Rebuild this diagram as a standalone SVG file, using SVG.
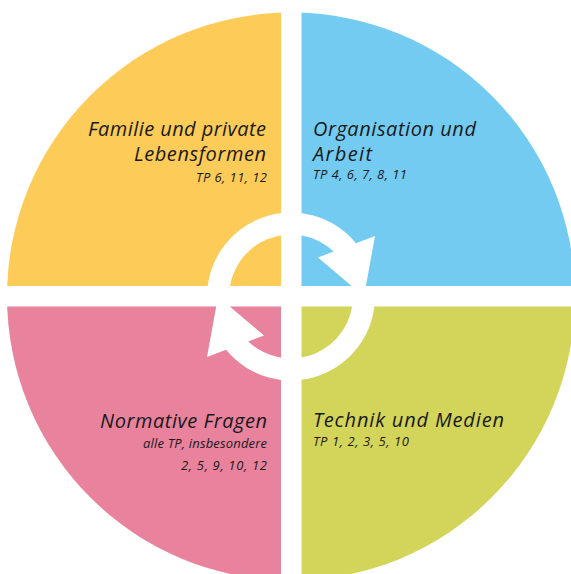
<svg xmlns="http://www.w3.org/2000/svg" width="571" height="574" viewBox="0 0 571 574">
<style>
.t{font-family:"Open Sans","Noto Sans","Liberation Sans",sans-serif;font-style:italic;fill:#1a1a1a}
.h{font-size:20px}
.s{font-size:13px}
</style>
<defs>
<clipPath id="c"><circle cx="291" cy="296.5" r="284"/></clipPath>
</defs>
<rect width="571" height="574" fill="#fff"/>
<g clip-path="url(#c)">
<g id="q-familie"><rect x="0" y="0" width="281" height="286" fill="#fdcb58"/></g>
<g id="q-organisation"><rect x="301.5" y="0" width="290" height="286" fill="#73cbf2"/></g>
<g id="q-normative"><rect x="0" y="306.5" width="281" height="290" fill="#e8829d"/></g>
<g id="q-technik"><rect x="301.5" y="306.5" width="290" height="290" fill="#d3d45a"/></g>
</g>
<g id="connectors" fill="#fff">
<path d="M207 296.5 A84 84 0 0 1 355.9 243.2 L375 236 L364 296.5 L318 257.5 L333.7 251.6 A62 62 0 0 0 229 296.5 Z"/>
<path d="M375 296.5 A84 84 0 0 1 226.1 349.8 L207 357 L218 296.5 L264 335.5 L248.3 341.4 A62 62 0 0 0 353 296.5 Z"/>
</g>
<g id="label-familie">
<text class="t h" x="88" y="136" textLength="178" lengthAdjust="spacing">Familie und private</text>
<text class="t h" x="134" y="161" textLength="132" lengthAdjust="spacing">Lebensformen</text>
<text class="t s" x="196" y="181.5" textLength="71" lengthAdjust="spacing">TP 6, 11, 12</text>
</g>
<g id="label-organisation">
<text class="t h" x="313" y="136" textLength="163" lengthAdjust="spacing">Organisation und</text>
<text class="t h" x="313" y="161" textLength="59" lengthAdjust="spacing">Arbeit</text>
<text class="t s" x="313" y="179" textLength="94" lengthAdjust="spacing">TP 4, 6, 7, 8, 11</text>
</g>
<g id="label-normative">
<text class="t h" x="100" y="427.5" textLength="167" lengthAdjust="spacing">Normative Fragen</text>
<text class="t s" x="143" y="448.3" textLength="124" lengthAdjust="spacing">alle TP, insbesondere</text>
<text class="t s" x="181" y="470" textLength="86" lengthAdjust="spacing">2, 5, 9, 10, 12</text>
</g>
<g id="label-technik">
<text class="t h" x="313" y="426.7" textLength="191" lengthAdjust="spacing">Technik und Medien</text>
<text class="t s" x="313" y="446" textLength="96" lengthAdjust="spacing">TP 1, 2, 3, 5, 10</text>
</g>
</svg>
